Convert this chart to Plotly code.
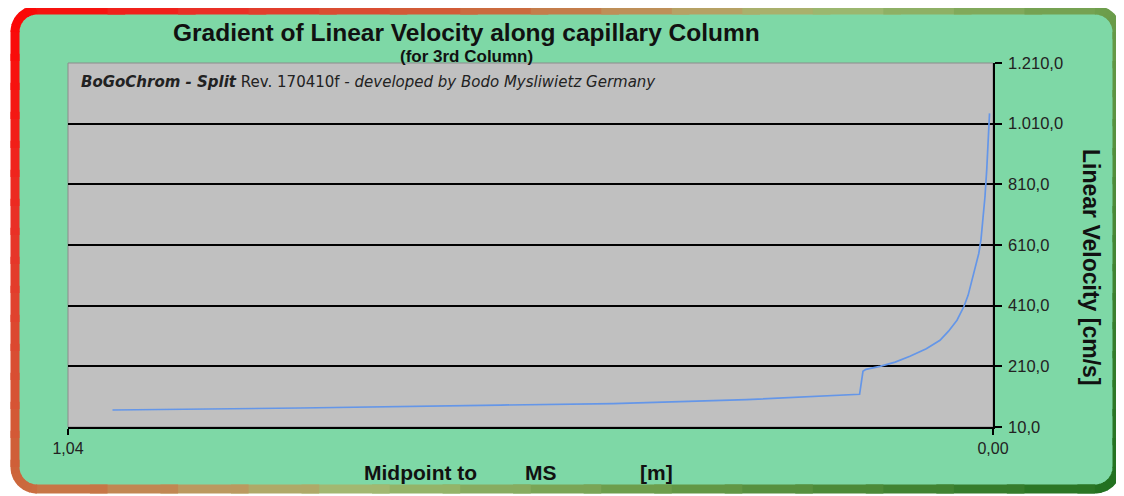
import math
import plotly.graph_objects as go

# ---------------- data ----------------
distance_m = [0.990, 0.779, 0.554, 0.427, 0.277, 0.150, 0.1462, 0.1428, 0.1271,
              0.110, 0.0934, 0.075, 0.0596, 0.050, 0.0405, 0.0326, 0.028, 0.0236,
              0.021, 0.0180, 0.016, 0.0135, 0.011, 0.0090, 0.007, 0.0055,
              0.0045, 0.0039]
velocity_cms = [66.0, 72.6, 82.2, 87.2, 100.3, 117.8, 193.6, 200.0, 210.0,
                224.0, 243.0, 268.0, 296.0, 326.0, 362.0, 408.0, 444.0, 492.0,
                520.0, 555.0, 582.0, 628.0, 700.0, 770.0, 860.0, 945.0,
                1011.0, 1044.0]
y_ticks = [10, 210, 410, 610, 810, 1010, 1210]
x_ticks = [1.04, 0.0]

title_text = "Gradient of Linear Velocity along capillary Column"
subtitle_text = "(for 3rd Column)"
credit_text = ("<b><i>BoGoChrom - Split</i></b> Rev. 170410f "
               "<i>- developed by Bodo Mysliwietz Germany</i>")
y_title = "Linear Velocity [cm/s]"
x_title_parts = ["Midpoint to", "MS", "[m]"]

# ---------------- layout geometry ----------------
# page body keeps the browser's default 8px margin, so the figure is
# sized to fit the window and screen positions are offset by OFF
OFF = 8
SW, SH = 1124, 496
W, H = SW - OFF, SH - OFF
L, R, T, B = 68 - OFF, 131, 63 - OFF, 69
PW, PH = W - L - R, H - T - B


def px(x):
    return (x - OFF - L) / PW


def py(y):
    return (H - B - (y - OFF)) / PH


MINT = "rgb(126,216,166)"
GREY = "rgb(192,192,192)"

fig = go.Figure()
fig.add_trace(go.Scatter(x=distance_m, y=velocity_cms, mode="lines",
                         line=dict(color="rgb(100,150,232)", width=1.7),
                         hoverinfo="x+y", showlegend=False))

# ---------------- rounded frame with gradient border ----------------
x0, x1, y0, y1, rad = 15, 1117, 10, 489, 22


def rounded_points(n_arc=24, n_side=60):
    pts = []
    def side(a, b):
        for i in range(n_side):
            t = i / n_side
            pts.append((a[0] + (b[0] - a[0]) * t, a[1] + (b[1] - a[1]) * t))
    def arc(cx, cy, a0, a1):
        for i in range(n_arc):
            a = a0 + (a1 - a0) * i / n_arc
            pts.append((cx + rad * math.cos(a), cy + rad * math.sin(a)))
    side((x0 + rad, y0), (x1 - rad, y0))
    arc(x1 - rad, y0 + rad, -math.pi / 2, 0)
    side((x1, y0 + rad), (x1, y1 - rad))
    arc(x1 - rad, y1 - rad, 0, math.pi / 2)
    side((x1 - rad, y1), (x0 + rad, y1))
    arc(x0 + rad, y1 - rad, math.pi / 2, math.pi)
    side((x0, y1 - rad), (x0, y0 + rad))
    arc(x0 + rad, y0 + rad, math.pi, 1.5 * math.pi)
    pts.append(pts[0])
    return pts


pts = rounded_points()
path = "M " + " L ".join(f"{px(a):.5f},{py(b):.5f}" for a, b in pts) + " Z"
shapes = [dict(type="path", path=path, xref="paper", yref="paper",
               fillcolor=MINT, line=dict(width=0), layer="below")]

stops = [(0.0, (255, 0, 0)), (0.15, (232, 50, 40)), (0.30, (205, 100, 58)),
         (0.44, (185, 158, 98)), (0.52, (160, 186, 114)), (0.70, (106, 156, 74)),
         (1.0, (30, 110, 30))]


def grad(s):
    s = max(0.0, min(1.0, s))
    for (s0, c0), (s1, c1) in zip(stops[:-1], stops[1:]):
        if s <= s1:
            t = (s - s0) / (s1 - s0)
            return "rgb(%d,%d,%d)" % tuple(round(c0[k] + (c1[k] - c0[k]) * t) for k in range(3))
    return "rgb(%d,%d,%d)" % stops[-1][1]


chunk = 4
for i in range(0, len(pts) - 1, chunk):
    seg = pts[i:i + chunk + 2]
    mx = sum(p[0] for p in seg) / len(seg)
    my = sum(p[1] for p in seg) / len(seg)
    col = grad((mx + my) / (SW + SH))
    d = "M " + " L ".join(f"{px(a):.5f},{py(b):.5f}" for a, b in seg)
    shapes.append(dict(type="path", path=d, xref="paper", yref="paper",
                       line=dict(color=col, width=9), layer="below"))

# plot area background
shapes.append(dict(type="rect", xref="paper", yref="paper", x0=0, x1=1, y0=0, y1=1,
                   fillcolor=GREY, line=dict(color="rgb(140,140,140)", width=1),
                   layer="below"))

FONT = "Liberation Sans, Arial"
annotations = [
    dict(text=f"<b>{title_text}</b>", x=px(466), y=py(32), xref="paper", yref="paper",
         showarrow=False, font=dict(family=FONT, size=24.5, color="#111"),
         xanchor="center", yanchor="middle"),
    dict(text=f"<b>{subtitle_text}</b>", x=px(466), y=py(56), xref="paper", yref="paper",
         showarrow=False, font=dict(family=FONT, size=17, color="#111"),
         xanchor="center", yanchor="middle"),
    dict(text=credit_text, x=px(79), y=py(82), xref="paper", yref="paper",
         showarrow=False, font=dict(family="DejaVu Sans", size=15, color="#222"),
         xanchor="left", yanchor="middle"),
    dict(text=f"<b>{y_title}</b>", x=px(1091), y=py(267), xref="paper", yref="paper",
         showarrow=False, textangle=90,
         font=dict(family=FONT, size=23, color="#111"),
         xanchor="center", yanchor="middle"),
]
for txt, cx in zip(x_title_parts, [420, 541, 656]):
    annotations.append(dict(text=f"<b>{txt}</b>", x=px(cx), y=py(472), xref="paper",
                            yref="paper", showarrow=False,
                            font=dict(family=FONT, size=21, color="#111"),
                            xanchor="center", yanchor="middle"))

fig.update_layout(
    template="none",
    width=W, height=H,
    margin=dict(l=L, r=R, t=T, b=B, pad=0),
    paper_bgcolor="white",
    plot_bgcolor="rgba(0,0,0,0)",
    separators=",.",
    showlegend=False,
    shapes=shapes,
    annotations=annotations,
    xaxis=dict(range=[1.04, 0.0], tickvals=x_ticks, tickformat=".2f",
               showgrid=False, zeroline=False, showline=True, linecolor="black",
               linewidth=1.5, ticks="outside", ticklen=6, tickcolor="black",
               tickwidth=1.5, automargin=False,
               tickfont=dict(family=FONT, size=16, color="#222")),
    yaxis=dict(side="right", range=[10, 1210], tickvals=y_ticks, tickformat=",.1f",
               showgrid=True, gridcolor="black", gridwidth=1.5, zeroline=False,
               showline=True, linecolor="black", linewidth=1.5, ticks="outside",
               ticklen=7, tickcolor="black", tickwidth=1.5, automargin=False,
               ticklabelstandoff=3,
               tickfont=dict(family=FONT, size=16.5, color="#222")),
)

fig.write_html("out.html")
